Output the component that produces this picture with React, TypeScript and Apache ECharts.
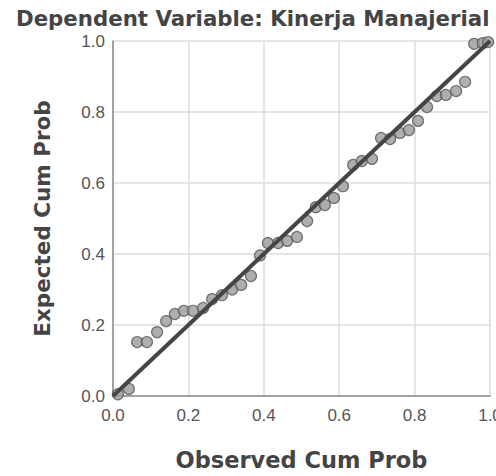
import React, { useEffect, useRef } from "react";
import * as echarts from "echarts";

const observedCumProb = [
  0.013, 0.042, 0.064, 0.09, 0.117, 0.141, 0.164, 0.188, 0.212, 0.239, 0.263,
  0.289, 0.316, 0.34, 0.366, 0.39, 0.411, 0.438, 0.462, 0.488, 0.515, 0.538,
  0.562, 0.586, 0.61, 0.637, 0.66, 0.687, 0.711, 0.735, 0.761, 0.785, 0.809,
  0.833, 0.859, 0.883, 0.91, 0.934, 0.958, 0.981, 0.995,
];
const expectedCumProb = [
  0.005, 0.02, 0.152, 0.152, 0.18, 0.211, 0.231, 0.24, 0.24, 0.248, 0.273,
  0.284, 0.3, 0.313, 0.338, 0.396, 0.431, 0.431, 0.437, 0.448, 0.493, 0.532,
  0.538, 0.558, 0.591, 0.651, 0.662, 0.668, 0.727, 0.724, 0.741, 0.749, 0.775,
  0.814, 0.845, 0.848, 0.859, 0.885, 0.992, 0.994, 0.997,
];
const referenceLine = [
  [0, 0],
  [1, 1],
];
const titleText = "Dependent Variable: Kinerja Manajerial";
const xAxisTitle = "Observed Cum Prob";
const yAxisTitle = "Expected Cum Prob";

export default function App() {
  const ref = useRef<HTMLDivElement>(null);
  useEffect(() => {
    if (!ref.current) return;
    const chart = echarts.init(ref.current, undefined, { renderer: "svg" });
    const points = observedCumProb.map((x, i) => [x, expectedCumProb[i]]);
    const tickLabel = {
      fontFamily: "Liberation Sans",
      fontSize: 17,
      color: "#555",
      formatter: (v: number) => v.toFixed(1),
    };
    chart.setOption({
      animation: false,
      backgroundColor: "#fff",
      title: {
        text: titleText,
        left: 11,
        top: 3,
        textStyle: {
          fontFamily: "DejaVu Sans",
          fontWeight: "bold",
          fontSize: 21.3,
          color: "#444",
        },
      },
      grid: {
        left: 113,
        right: 6,
        top: 41,
        bottom: 80,
        containLabel: false,
        outerBoundsMode: "none",
      },
      xAxis: {
        type: "value",
        min: 0,
        max: 1,
        interval: 0.2,
        name: xAxisTitle,
        nameLocation: "middle",
        nameGap: 52,
        nameTextStyle: {
          fontFamily: "DejaVu Sans",
          fontWeight: "bold",
          fontSize: 22.5,
          color: "#444",
        },
        axisLine: { show: true, lineStyle: { color: "#8a8a8a", width: 1.5 } },
        axisTick: { show: false },
        axisLabel: { ...tickLabel, margin: 11 },
        splitLine: { show: true, lineStyle: { color: "#dcdcdc", width: 1.5 } },
      },
      yAxis: {
        type: "value",
        min: 0,
        max: 1,
        interval: 0.2,
        name: yAxisTitle,
        nameLocation: "middle",
        nameGap: 60,
        nameTextStyle: {
          fontFamily: "DejaVu Sans",
          fontWeight: "bold",
          fontSize: 21.5,
          color: "#444",
        },
        axisLine: { show: true, lineStyle: { color: "#8a8a8a", width: 1.5 } },
        axisTick: { show: false },
        axisLabel: { ...tickLabel, margin: 8 },
        splitLine: { show: true, lineStyle: { color: "#dcdcdc", width: 1.5 } },
      },
      series: [
        {
          type: "scatter",
          data: points,
          symbol: "circle",
          symbolSize: 11,
          itemStyle: { color: "#9a9a9a", borderColor: "#555", borderWidth: 1.2 },
          z: 2,
        },
        {
          type: "line",
          data: referenceLine,
          symbol: "none",
          lineStyle: { color: "#454545", width: 4 },
          z: 3,
        },
      ],
    });
    return () => chart.dispose();
  }, []);
  return (
    <div
      ref={ref}
      style={{ position: "fixed", left: 0, top: 0, width: 496, height: 476 }}
    />
  );
}
